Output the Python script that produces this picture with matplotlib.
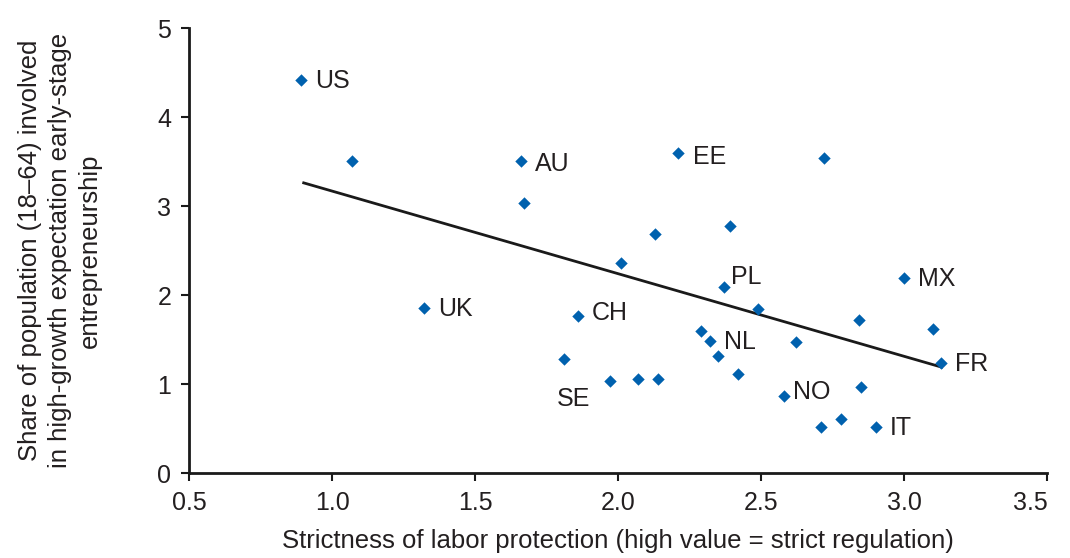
import matplotlib
matplotlib.use("Agg")
import matplotlib.pyplot as plt

# Labor-protection strictness vs. high-growth early-stage entrepreneurship
countries = ["US", "", "AU", "", "UK", "EE", "", "", "", "", "PL", "MX", "", "CH", "",
             "", "", "NL", "", "", "FR", "", "", "SE", "", "", "", "NO", "", "", "IT"]
strictness = [0.89, 1.07, 1.66, 1.67, 1.32, 2.21, 2.72, 2.39, 2.13, 2.01, 2.37, 3.00, 2.49, 1.86, 2.84,
              3.10, 2.29, 2.32, 2.62, 2.35, 3.13, 1.81, 2.42, 1.97, 2.07, 2.14, 2.85, 2.58, 2.78, 2.71, 2.90]
share = [4.42, 3.51, 3.51, 3.03, 1.85, 3.60, 3.54, 2.78, 2.68, 2.36, 2.09, 2.19, 1.84, 1.76, 1.72,
         1.62, 1.60, 1.48, 1.47, 1.32, 1.24, 1.28, 1.11, 1.03, 1.06, 1.06, 0.97, 0.86, 0.61, 0.52, 0.52]

# trend line as drawn in the source (endpoints)
trend_x = [0.90, 3.13]
trend_y = [3.26, 1.19]

x_ticks = [0.5, 1.0, 1.5, 2.0, 2.5, 3.0, 3.5]
y_ticks = [0, 1, 2, 3, 4, 5]

# label offsets in pixels (dx, dy); default is to the right of the marker
label_offsets = {"SE": (-20, -18), "PL": (7, 10), "NO": (9, 4), "EE": (15, -4), "AU": (14, -3), "CH": (13, 3)}

TEXT = "#231f20"
BLUE = "#0061ae"
plt.rcParams["font.family"] = ["Liberation Sans", "DejaVu Sans"]

fig = plt.figure(figsize=(10.7, 5.58), dpi=100)
ax = fig.add_axes([0.1769, 0.1523, 0.8019, 0.7975])

ax.scatter(strictness, share, marker="D", s=40, color=BLUE, linewidths=0, zorder=3)
ax.plot(trend_x, trend_y, color="#1a1a1a", lw=2, zorder=2)

for name, x, y in zip(countries, strictness, share):
    if not name:
        continue
    dx, dy = label_offsets.get(name, (14, -1))
    ax.annotate(name, (x, y), xytext=(dx, dy), textcoords="offset pixels",
                ha="left" if dx > 0 else "right", va="center", fontsize=18, color=TEXT)

ax.set_xlim(0.5, 3.5)
ax.set_ylim(0, 5)
ax.set_xticks(x_ticks)
ax.set_xticklabels([f"{v:.1f}" for v in x_ticks])
ax.set_yticks(y_ticks)
ax.get_xticklabels()[-1].set_horizontalalignment("right")

for side in ["top", "right"]:
    ax.spines[side].set_visible(False)
for side in ["left", "bottom"]:
    ax.spines[side].set_linewidth(2)
    ax.spines[side].set_color("#1a1a1a")
ax.tick_params(direction="out", length=6, width=1.5, labelsize=18, colors="#1a1a1a", labelcolor=TEXT, pad=7)

ax.set_xlabel("Strictness of labor protection (high value = strict regulation)", fontsize=18.5, color=TEXT, labelpad=10)
ax.set_ylabel("Share of population (18\u201364) involved\nin high-growth expectation early-stage\nentrepreneurship",
              fontsize=18.5, color=TEXT, labelpad=40, linespacing=1.3)

fig.savefig("out.png", dpi=100)
